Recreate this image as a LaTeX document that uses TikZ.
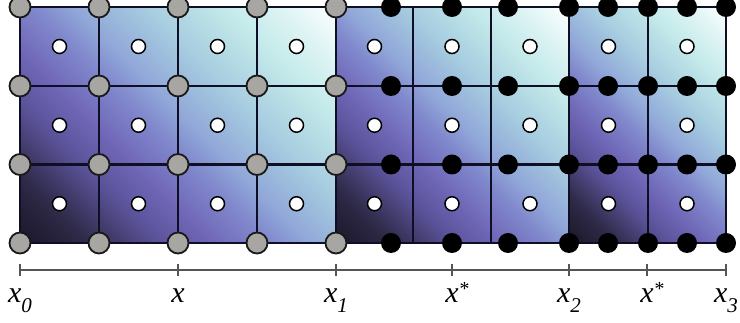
\documentclass[tikz,border=0pt]{standalone}
\usepackage{fontspec}
\setmainfont{Liberation Serif}
\definecolor{s0}{HTML}{1A1628}
\definecolor{s1}{HTML}{2E2A48}
\definecolor{s2}{HTML}{5A5298}
\definecolor{s3}{HTML}{7068B8}
\definecolor{s4}{HTML}{8088CC}
\definecolor{s5}{HTML}{90A6D8}
\definecolor{s6}{HTML}{A6CCE0}
\definecolor{s7}{HTML}{C4EAEA}
\definecolor{s8}{HTML}{E4F6F6}
\definecolor{s9}{HTML}{FFFFFF}
\definecolor{gridc}{HTML}{0E0E24}
\definecolor{greyfill}{HTML}{A8A6A3}
\definecolor{axisc}{HTML}{555555}
\pgfdeclarehorizontalshading{sect}{100bp}{color(0bp)=(s0); color(14.6bp)=(s0); color(23.1bp)=(s1); color(32.3bp)=(s2); color(39.4bp)=(s3); color(46.5bp)=(s4); color(51.4bp)=(s5); color(60.6bp)=(s6); color(71.2bp)=(s7); color(79.7bp)=(s8); color(85.4bp)=(s9); color(100bp)=(s9)}
\newcommand{\xsub}[1]{x\raisebox{-10pt}{\fontsize{21}{21}\selectfont\itshape #1}}
\newcommand{\xstar}{x\rlap{\raisebox{7pt}{\fontsize{20}{20}\selectfont *}}}
\begin{document}
\begin{tikzpicture}[x=1pt,y=1pt,
  gridline/.style={draw=gridc,line width=2.2pt},
  greydot/.style={circle,draw=black!90,line width=1.8pt,fill=greyfill,minimum size=21pt,inner sep=0pt},
  blackdot/.style={circle,fill=black,minimum size=20pt,inner sep=0pt},
  whitedot/.style={circle,draw=black,line width=1.5pt,fill=white,minimum size=14pt,inner sep=0pt},
  axisline/.style={draw=axisc,line width=1.2pt},
  lab/.style={font=\fontsize{30}{30}\selectfont\itshape,inner sep=0pt,anchor=base}]
\useasboundingbox (0,0) rectangle (740,323);
% shaded sections
\fill[shading=sect,shading angle=45] (20,80) rectangle (336,316);
\fill[shading=sect,shading angle=45] (336,80) rectangle (569,316);
\fill[shading=sect,shading angle=45] (569,80) rectangle (726,316);
% grid
\foreach \y in {316,237,158.5,80} \draw[gridline] (20,\y) -- (726,\y);
\foreach \x in {20,99,178,257,336,413,491,569,648,726} \draw[gridline] (\x,80) -- (\x,316);
% white cell-centre dots
\foreach \x [count=\i] in {59.5,138.5,217.5,296.5,374.5,452,530,608.5,687}
  \foreach \y [count=\j] in {276.5,197.75,119.25}
    \node[whitedot] (w-\i-\j) at (\x,\y) {};
% grey nodes
\foreach \x [count=\i] in {20,99,178,257,336}
  \foreach \y [count=\j] in {316,237,158.5,80}
    \node[greydot] (g-\i-\j) at (\x,\y) {};
% black nodes
\foreach \x [count=\i] in {391,452,508,569,608,648,687,726}
  \foreach \y [count=\j] in {316,237,158.5,80}
    \node[blackdot] (b-\i-\j) at (\x,\y) {};
% axis
\coordinate (a0) at (20,53);
\coordinate (a3) at (726,53);
\draw[axisline] (a0) -- (a3);
\foreach \x [count=\i] in {20,178,336,452,569,647,726}
  \draw[axisline] (\x,47) coordinate (t\i) -- (\x,59);
% labels
\node[lab] (l1) at (20,20) {\xsub{0}};
\node[lab] (l2) at (178,20) {x};
\node[lab] (l3) at (336,20) {\xsub{1}};
\node[lab] (l4) at (452,20) {\xstar};
\node[lab] (l5) at (569,20) {\xsub{2}};
\node[lab] (l6) at (647,20) {\xstar};
\node[lab] (l7) at (726,20) {\xsub{3}};
\end{tikzpicture}
\end{document}
